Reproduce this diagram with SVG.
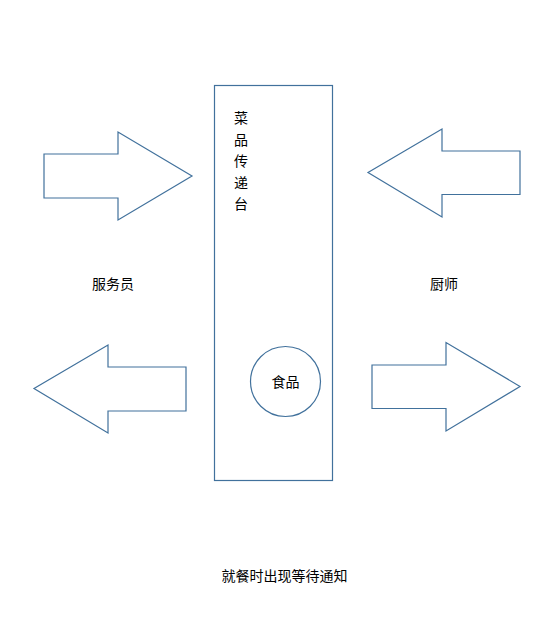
<svg xmlns="http://www.w3.org/2000/svg" width="556" height="629" viewBox="0 0 556 629">
  <style>
    .shape { fill: #ffffff; stroke: #41719c; stroke-width: 1.2; }
    .label { font-family: "Liberation Sans", "Noto Sans CJK SC", sans-serif; font-size: 14px; fill: #000000; text-anchor: middle; dominant-baseline: central; }
  </style>
  <rect width="556" height="629" fill="#ffffff"/>

  <!-- pass-through counter -->
  <g id="counter">
    <rect class="shape" x="214.5" y="85.5" width="118" height="395"/>
    <text class="label" x="241" y="118">菜</text>
    <text class="label" x="241" y="140">品</text>
    <text class="label" x="241" y="161">传</text>
    <text class="label" x="241" y="183">递</text>
    <text class="label" x="241" y="204">台</text>
  </g>

  <g id="food">
    <circle class="shape" cx="285.5" cy="381.5" r="35"/>
    <text class="label" x="285.5" y="382">食品</text>
  </g>

  <g id="waiter">
    <text class="label" x="113" y="284">服务员</text>
  </g>

  <g id="chef">
    <text class="label" x="444" y="284">厨师</text>
  </g>

  <g id="note">
    <text class="label" x="284.5" y="576">就餐时出现等待通知</text>
  </g>

  <!-- block arrows -->
  <g id="arrows">
    <polygon class="shape" points="44,154 118,154 118,132 192,176 118,220 118,198 44,198"/>
    <polygon class="shape" points="520,151 442,151 442,129 368,172.5 442,217 442,194.5 520,194.5"/>
    <polygon class="shape" points="186,367 108,367 108,345 34,388.5 108,433 108,411 186,411"/>
    <polygon class="shape" points="372,365 446,365 446,342.5 520,386.5 446,431 446,408.5 372,408.5"/>
  </g>
</svg>
